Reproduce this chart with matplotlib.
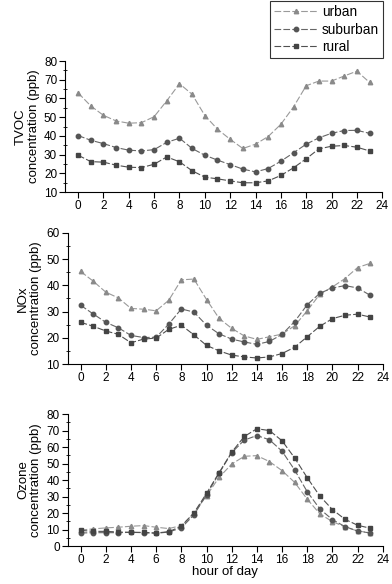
import matplotlib.pyplot as plt
import numpy as np
from matplotlib.ticker import MultipleLocator, AutoMinorLocator

plt.rcParams['font.family'] = ['Liberation Sans', 'DejaVu Sans']

hours = np.arange(24)

tvoc_urban = [63, 56, 51, 48, 46.8, 47.1, 50.3, 58.8, 67.9, 62.2, 50.9, 43.6, 38.2, 33.3,
              35.6, 39.7, 46.2, 55.5, 66.8, 69.3, 69.3, 72, 74.6, 68.6]
tvoc_suburban = [40.2, 37.7, 35.9, 33.8, 32.4, 32.0, 32.7, 36.6, 38.8, 33.3, 29.7, 27.1, 24.7,
                 22.3, 20.8, 22.6, 26.5, 31, 35.6, 39, 41.4, 42.9, 43, 41.4]
tvoc_rural = [29.7, 26.3, 26, 24.4, 23.3, 23.1, 24.9, 28.8, 26.2, 21.4, 18, 17.1, 16, 15,
              15, 16, 18.9, 23, 27.8, 33.1, 34.5, 34.9, 34, 32]

nox_urban = [45.3, 41.6, 37.4, 35.2, 31.2, 30.9, 30.3, 34.3, 42.1, 42.4, 34.6, 27.4, 23.6, 20.7,
             19.4, 20.4, 21.4, 24.6, 30.3, 36.6, 39.4, 42.6, 46.8, 48.4]
nox_suburban = [32.4, 29.1, 25.9, 23.8, 20.9, 20.1, 20.2, 25.2, 31, 29.8, 24.8, 21.5, 19.5, 18.4,
                17.5, 18.6, 21.3, 26.2, 32.6, 37, 39, 39.9, 39, 36.2]
nox_rural = [25.9, 24.4, 22.6, 21.3, 18.1, 19.5, 19.9, 23.2, 24.8, 21.1, 17.1, 15, 13.4, 12.7,
             12.3, 12.7, 14, 16.4, 20.4, 24.4, 27.3, 28.6, 29, 27.9]

o3_urban = [9.7, 10.4, 11, 11.4, 12, 12.4, 11.4, 10.6, 12.4, 19.9, 30.5, 41.6, 49.7, 54.4,
            54.8, 51.2, 45.7, 38.6, 28.4, 19.5, 14.8, 11.6, 9.1, 8.1]
o3_suburban = [7.9, 8.1, 8.1, 8.1, 8.3, 8.1, 7.7, 8.5, 11, 18.9, 31.1, 44.1, 56.6, 64.2,
               67, 64.4, 57.5, 46.1, 32.9, 22.5, 16, 11.8, 9.1, 7.9]
o3_rural = [9.5, 8.9, 8.9, 8.5, 8.3, 8.3, 7.9, 8.7, 12, 20.1, 31.9, 44.5, 56.9, 66.4,
            71.1, 70, 63.8, 53.4, 41.4, 30.3, 22.1, 16.2, 12.6, 10.8]

labels = ["urban", "suburban", "rural"]
styles = [("^", "#8a8a8a", "#9a9a9a"), ("o", "#555555", "#666666"), ("s", "#444444", "#505050")]

panels = [
    ("TVOC\nconcentration (ppb)", [tvoc_urban, tvoc_suburban, tvoc_rural], (10, 80),
     [0.167, 0.671, 0.808, 0.2245]),
    ("NOx\nconcentration (ppb)", [nox_urban, nox_suburban, nox_rural], (10, 60),
     [0.1735, 0.3767, 0.803, 0.2245]),
    ("Ozone\nconcentration (ppb)", [o3_urban, o3_suburban, o3_rural], (0, 80),
     [0.1735, 0.065, 0.803, 0.226]),
]

fig = plt.figure(figsize=(3.92, 5.84), dpi=100)
handles = []
for i, (ylab, series, ylim, rect) in enumerate(panels):
    ax = fig.add_axes(rect)
    for vals, (mk, mc, lc), lab in zip(series, styles, labels):
        h, = ax.plot(hours, vals, linestyle=(0, (6, 2)), color=lc, linewidth=0.8,
                     marker=mk, markersize=3.2, markerfacecolor=mc, markeredgecolor=mc,
                     label=lab)
        if i == 0:
            handles.append(h)
    ax.set_xlim(-1, 24)
    ax.set_ylim(*ylim)
    ax.set_xticks(range(0, 25, 2))
    ax.yaxis.set_major_locator(MultipleLocator(10))
    ax.yaxis.set_minor_locator(AutoMinorLocator(2))
    ax.spines['top'].set_visible(False)
    ax.spines['right'].set_visible(False)
    ax.spines['left'].set_linewidth(0.8)
    ax.spines['bottom'].set_linewidth(0.8)
    ax.tick_params(axis='both', which='major', labelsize=8.5, length=4.5, width=0.8, pad=1.5)
    ax.tick_params(axis='y', which='minor', direction='inout', length=3, width=0.6)
    ax.set_ylabel(ylab, fontsize=9.5, linespacing=1.15, labelpad=3)
    if i == 2:
        ax.set_xlabel("hour of day", fontsize=9.5, labelpad=0)

leg = fig.legend(handles=handles, loc='upper right', bbox_to_anchor=(0.977, 0.998),
                 fontsize=9.8, frameon=True, fancybox=False, edgecolor='black',
                 handlelength=3.2, handletextpad=0.3, borderpad=0.3, labelspacing=0.25,
                 borderaxespad=0.0)
leg.get_frame().set_linewidth(0.8)

fig.savefig("out.png", dpi=100)
